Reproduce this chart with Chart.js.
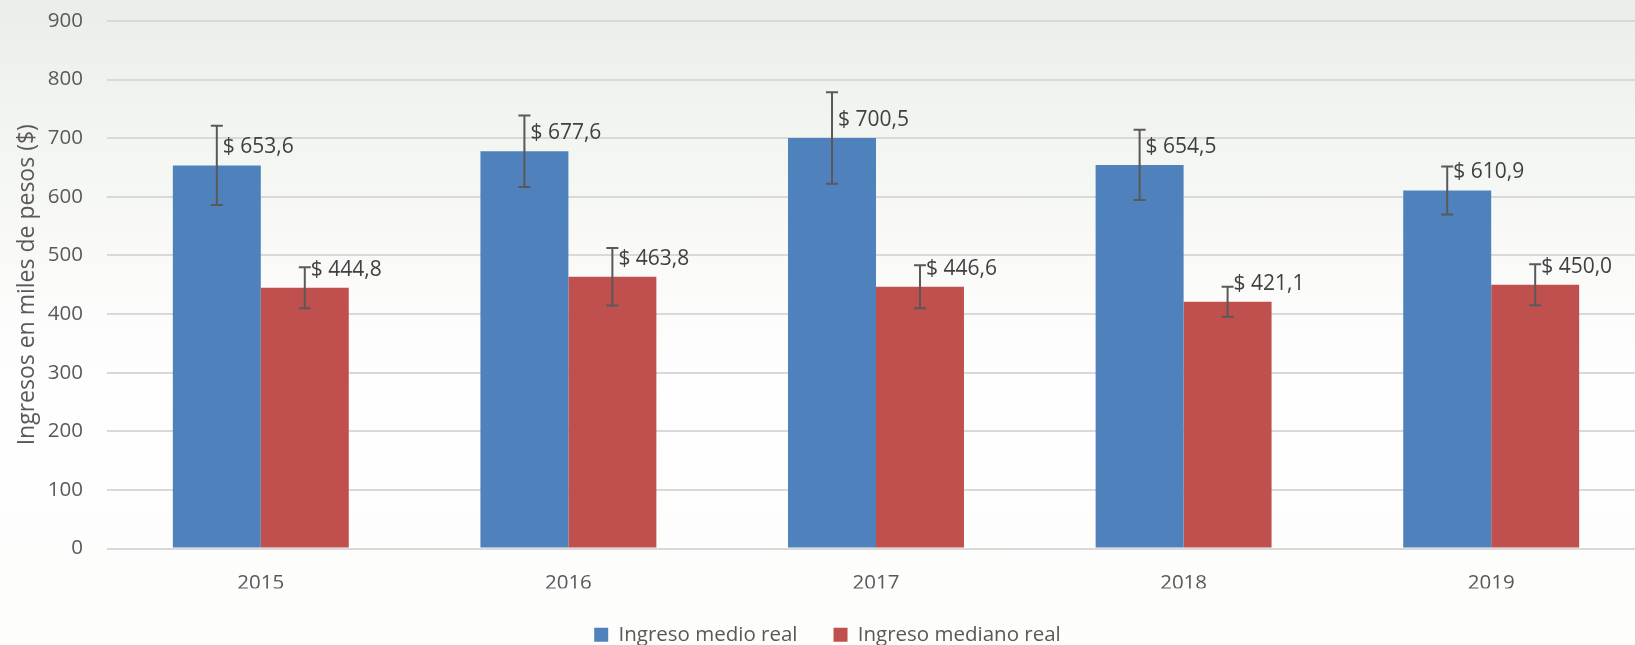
<!DOCTYPE html>
<html lang="es">
<head>
<meta charset="utf-8">
<title>Ingreso medio y mediano real</title>
<script src="https://cdn.jsdelivr.net/npm/chart.js@4.4.1/dist/chart.umd.min.js"></script>
<style>
  html, body { margin: 0; padding: 0; }
  body {
    width: 1635px; height: 645px; overflow: hidden;
    background: linear-gradient(to bottom, #eaeee8 0%, #f1f4ef 18%, #f9faf8 38%, #fefefe 60%, #fdfdfc 100%);
  }
  #wrap { width: 1635px; height: 645px; overflow: hidden; position: relative; }
  canvas { display: block; }
</style>
</head>
<body>
<div id="wrap"><canvas id="chart" width="1657" height="655"></canvas></div>
<script>
// datos (miles de pesos)
const years = ['2015', '2016', '2017', '2018', '2019'];
const ingresoMedio   = [653.6, 677.6, 700.5, 654.5, 610.9];
const ingresoMediano = [444.8, 463.8, 446.6, 421.1, 450.0];
// barras de error (+/-)
const errMedio   = [67.6, 61, 78, 60, 41];
const errMediano = [35, 49, 36.5, 25.6, 35];
const yMax = 900, yStep = 100;

const FONT = "'Open Sans', sans-serif";
const errs = [errMedio, errMediano];

// —– barras de error –—
const errorBars = {
  id: 'errorBars',
  afterDatasetsDraw(chart) {
    const { ctx, scales: { y } } = chart;
    ctx.save();
    ctx.strokeStyle = '#595959';
    ctx.lineWidth = 2;
    chart.data.datasets.forEach((ds, i) => {
      chart.getDatasetMeta(i).data.forEach((bar, j) => {
        const v = ds.data[j], e = errs[i][j];
        const top = y.getPixelForValue(v + e), bot = y.getPixelForValue(v - e);
        ctx.beginPath();
        ctx.moveTo(bar.x, top); ctx.lineTo(bar.x, bot);
        ctx.moveTo(bar.x - 6, top); ctx.lineTo(bar.x + 6, top);
        ctx.moveTo(bar.x - 6, bot); ctx.lineTo(bar.x + 6, bot);
        ctx.stroke();
      });
    });
    ctx.restore();
  }
};

// —– etiquetas de valor –—
const valueLabels = {
  id: 'valueLabels',
  afterDraw(chart) {
    const { ctx } = chart;
    ctx.save();
    ctx.font = `21px ${FONT}`;
    ctx.fillStyle = '#404040';
    ctx.textAlign = 'left';
    ctx.textBaseline = 'middle';
    chart.data.datasets.forEach((ds, i) => {
      chart.getDatasetMeta(i).data.forEach((bar, j) => {
        const txt = '$ ' + ds.data[j].toFixed(1).replace('.', ',');
        ctx.fillText(txt, bar.x + 6, bar.y - 18);
      });
    });
    ctx.restore();
  }
};

new Chart(document.getElementById('chart').getContext('2d'), {
  type: 'bar',
  data: {
    labels: years,
    datasets: [
      { label: 'Ingreso medio real', data: ingresoMedio, backgroundColor: '#4f81bd', borderWidth: 0 },
      { label: 'Ingreso mediano real', data: ingresoMediano, backgroundColor: '#c0504d', borderWidth: 0 }
    ]
  },
  options: {
    responsive: false,
    animation: false,
    layout: { padding: { top: 21, right: 12, left: 10, bottom: 0 } },
    datasets: { bar: { categoryPercentage: 0.572, barPercentage: 1 } },
    plugins: {
      legend: {
        position: 'bottom',
        labels: { font: { family: FONT, size: 20.5 }, color: '#595959', boxWidth: 14, boxHeight: 14, padding: 36 }
      },
      tooltip: { enabled: false }
    },
    scales: {
      x: {
        grid: { display: false, drawTicks: false },
        border: { display: false },
        ticks: { font: { family: FONT, size: 20.5 }, color: '#595959', padding: 22 },
        afterFit(s) { s.height = 40; }
      },
      y: {
        min: 0, max: yMax,
        grid: { color: '#d9d9d9', lineWidth: 2, drawTicks: false },
        border: { display: false },
        ticks: { stepSize: yStep, font: { family: FONT, size: 20.5 }, color: '#595959', padding: 24 },
        title: { display: true, text: 'Ingresos en miles de pesos ($)', font: { family: FONT, size: 23 }, color: '#595959', padding: { top: 4, bottom: 0 } },
        afterFit(s) { s.width = 97; s.paddingTop = 0; s.paddingBottom = 0; }
      }
    }
  },
  plugins: [errorBars, valueLabels]
});
</script>
</body>
</html>
